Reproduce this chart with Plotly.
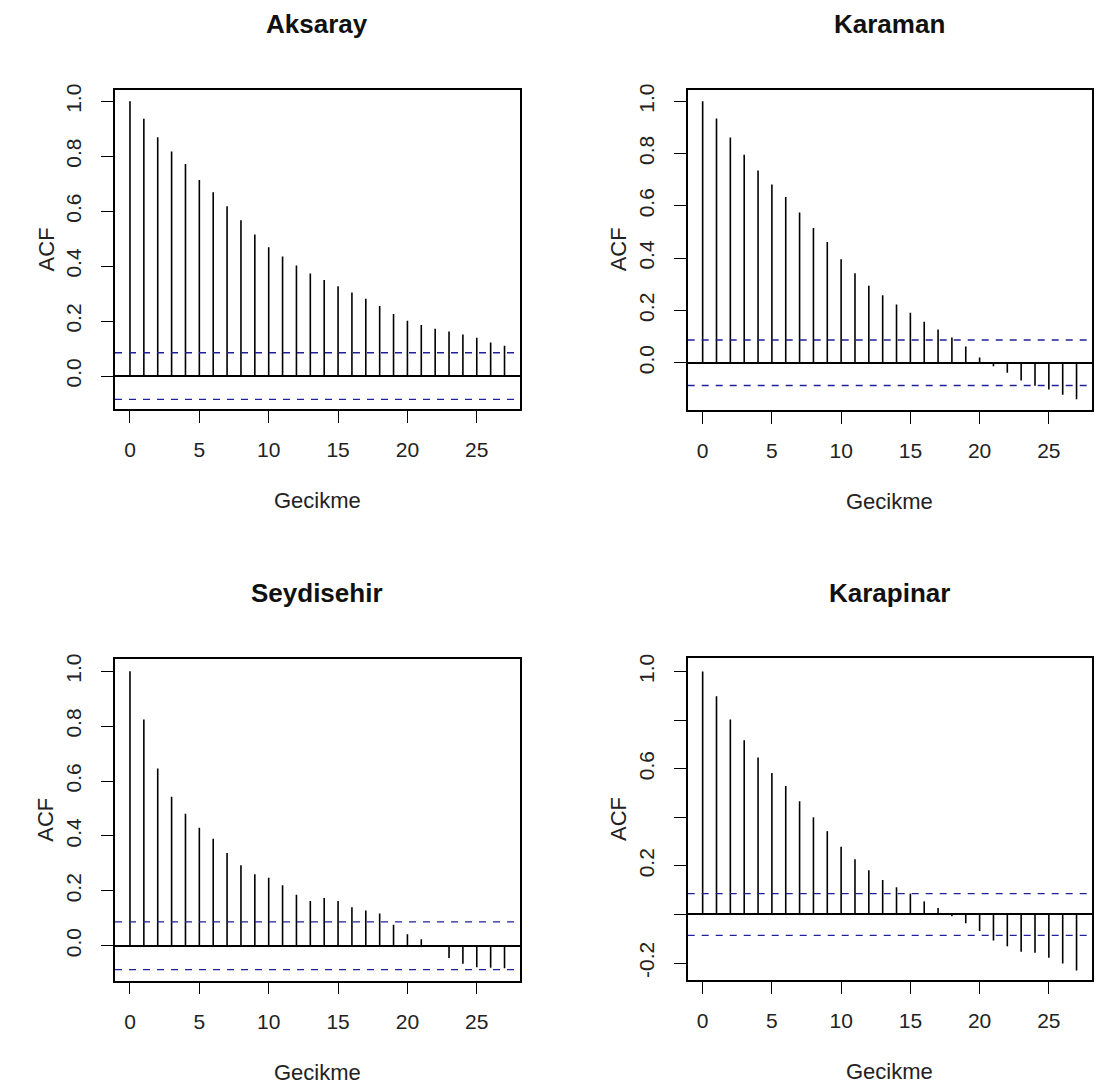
import plotly.graph_objects as go

# ---------------- data ----------------
lags = list(range(28))
x_ticks = [0, 5, 10, 15, 20, 25]

titles = ["Aksaray", "Karaman", "Seydisehir", "Karapinar"]

aksaray = [1.0, 0.937, 0.869, 0.817, 0.772, 0.714, 0.669, 0.618, 0.567, 0.515,
           0.469, 0.435, 0.402, 0.373, 0.350, 0.327, 0.304, 0.281, 0.255, 0.226,
           0.201, 0.186, 0.172, 0.162, 0.151, 0.139, 0.122, 0.110]
karaman = [1.0, 0.934, 0.862, 0.796, 0.735, 0.682, 0.634, 0.575, 0.515, 0.462,
           0.396, 0.342, 0.294, 0.258, 0.223, 0.191, 0.157, 0.127, 0.096, 0.062,
           0.020, -0.014, -0.038, -0.068, -0.088, -0.102, -0.123, -0.140]
seydisehir = [1.0, 0.824, 0.646, 0.543, 0.481, 0.430, 0.390, 0.338, 0.293, 0.260,
              0.248, 0.220, 0.186, 0.163, 0.174, 0.163, 0.140, 0.128, 0.117, 0.076,
              0.042, 0.024, -0.003, -0.045, -0.066, -0.078, -0.080, -0.082]
karapinar = [1.0, 0.898, 0.802, 0.717, 0.646, 0.582, 0.529, 0.466, 0.400, 0.343,
             0.279, 0.227, 0.182, 0.142, 0.112, 0.086, 0.054, 0.027, -0.007, -0.036,
             -0.068, -0.107, -0.131, -0.153, -0.157, -0.178, -0.202, -0.230]

ci_bounds = [0.085, 0.087, 0.087, 0.086]

y_tickvals_std = [0.0, 0.2, 0.4, 0.6, 0.8, 1.0]
y_ticktext_std = ["0.0", "0.2", "0.4", "0.6", "0.8", "1.0"]
y_tickvals_kp = [-0.2, 0.0, 0.2, 0.4, 0.6, 0.8, 1.0]
y_ticktext_kp = ["-0.2", "", "0.2", "", "0.6", "", "1.0"]

series = [aksaray, karaman, seydisehir, karapinar]

# ---------------- layout geometry ----------------
W, H = 1097, 1089
FONT = "Liberation Sans, Arial, Helvetica, sans-serif"
TXT = "#222222"

# plot boxes in pixels: (left, right, top, bottom)
boxes = [(115, 519.5, 84, 405.5),
         (687.7, 1091.5, 84, 406),
         (115, 519.5, 656.5, 980),
         (687.7, 1091.5, 656, 979.5)]
y_ranges = [[-0.121, 1.043], [-0.180, 1.045], [-0.127, 1.045], [-0.270, 1.054]]
x_range = [-1.08, 28.08]

fig = go.Figure()
annotations = []
shapes = []

for i, (vals, title, box, yr, ci) in enumerate(zip(series, titles, boxes, y_ranges, ci_bounds)):
    n = "" if i == 0 else str(i + 1)
    xa, ya = "x" + n, "y" + n
    left, right, top, bottom = box

    # stems built from the data
    xs, ys = [], []
    for lag, v in zip(lags, vals):
        xs += [lag, lag, None]
        ys += [0, v, None]
    fig.add_trace(go.Scatter(x=xs, y=ys, mode="lines",
                             line=dict(color="black", width=1.6),
                             xaxis=xa, yaxis=ya, showlegend=False, hoverinfo="skip"))

    # confidence bounds
    for c in (ci, -ci):
        shapes.append(dict(type="line", xref=xa + " domain", yref=ya,
                           x0=0, x1=1, y0=c, y1=c,
                           line=dict(color="#20209a", width=1.4, dash="7px,7px")))

    if i == 3:
        tv, tt = y_tickvals_kp, y_ticktext_kp
    else:
        tv, tt = y_tickvals_std, y_ticktext_std

    axis_common = dict(showline=True, mirror=True, linecolor="black", linewidth=1.6,
                       ticks="outside", ticklen=12, tickwidth=1.4, tickcolor="black",
                       showgrid=False,
                       tickfont=dict(family=FONT, size=21, color=TXT))
    fig.layout["xaxis" + n] = dict(
        domain=[left / W, right / W], anchor=ya, range=x_range,
        tickvals=x_ticks, ticktext=[str(t) for t in x_ticks],
        zeroline=False, ticklabelstandoff=9, **axis_common)
    fig.layout["yaxis" + n] = dict(
        domain=[1 - bottom / H, 1 - top / H], anchor=xa, range=yr,
        tickvals=tv, ticktext=tt, tickangle=-90,
        zeroline=True, zerolinecolor="black", zerolinewidth=1.6,
        ticklabelstandoff=12, **axis_common)

    cx = (left + right) / 2
    # subplot title
    annotations.append(dict(text="<b>" + title + "</b>", xref="paper", yref="paper",
                            x=cx / W, y=1 - (top - 66) / H, xanchor="center", yanchor="middle",
                            showarrow=False, font=dict(family=FONT, size=26, color="#111111")))
    # x axis title
    annotations.append(dict(text="Gecikme", xref="paper", yref="paper",
                            x=cx / W, y=1 - (bottom + 92) / H, xanchor="center", yanchor="middle",
                            showarrow=False, font=dict(family=FONT, size=22, color=TXT)))
    # y axis title
    annotations.append(dict(text="ACF", xref="paper", yref="paper", textangle=-90,
                            x=(left - 69) / W, y=1 - (top + bottom) / 2 / H,
                            xanchor="center", yanchor="middle",
                            showarrow=False, font=dict(family=FONT, size=22, color=TXT)))

fig.update_layout(width=W, height=H, margin=dict(l=0, r=0, t=0, b=0),
                  paper_bgcolor="white", plot_bgcolor="white",
                  annotations=annotations, shapes=shapes,
                  font=dict(family=FONT, color=TXT))

fig.write_html("out.html")
